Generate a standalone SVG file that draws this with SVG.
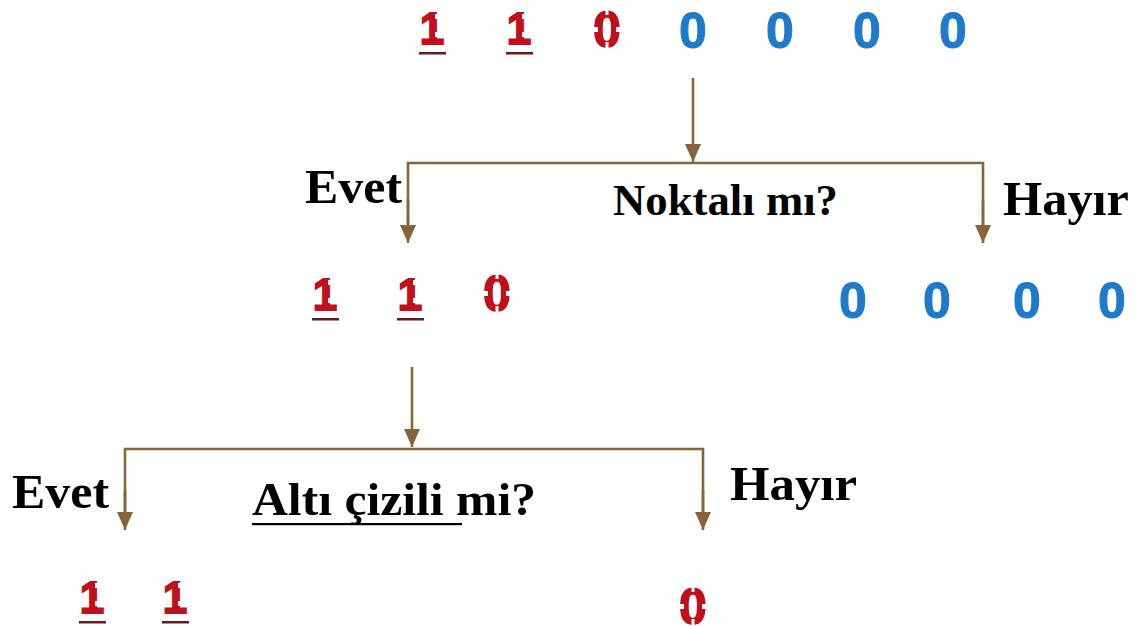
<svg xmlns="http://www.w3.org/2000/svg" xmlns:xlink="http://www.w3.org/1999/xlink" width="1139" height="627" viewBox="0 0 1139 627">
  <style>
    .digit { font-family: "Liberation Sans", Arial, sans-serif; font-weight: bold; text-anchor: middle; }
    .red { fill: #C0101C; stroke: #C0101C; stroke-width: 1.8; }
    .blue { fill: #1E7ACB; stroke: #1E7ACB; stroke-width: 1; font-size: 50px; }
    .label { font-family: "Liberation Serif", "Times New Roman", serif; font-weight: bold; fill: #000; }
    .wire { stroke: #86653A; stroke-width: 2.6; fill: none; }
    .gap { fill: #fff; }
    .uline { fill: #6B1A20; }
  </style>
  <defs>
    <marker id="head" viewBox="0 0 18 16" refX="18" refY="8" markerWidth="18" markerHeight="16" markerUnits="userSpaceOnUse" orient="auto">
      <path d="M0,0 L18,8 L0,16 Z" fill="#86653A"/>
    </marker>
    <!-- dotted, underlined red one: origin = centre of baseline -->
    <g id="one">
      <text class="digit red" x="0" y="0" font-size="44">1</text>
      <rect class="gap" x="3" y="-30" width="4" height="5"/>
      <rect class="gap" x="3" y="-12" width="5" height="5"/>
      <rect class="uline" x="-13" y="8" width="27" height="2.5"/>
    </g>
    <!-- dotted red zero: origin = centre of baseline -->
    <g id="zero">
      <text class="digit red" x="0" y="0" font-size="50">0</text>
      <rect class="gap" x="-16" y="-20" width="7" height="5"/>
      <rect class="gap" x="9" y="-20" width="7" height="5"/>
      <rect class="gap" x="-1.5" y="-38" width="3" height="6"/>
      <rect class="gap" x="-1.5" y="-5" width="3" height="6"/>
    </g>
  </defs>

  <rect width="1139" height="627" fill="#fff"/>

  <!-- connectors -->
  <g id="connectors">
    <line class="wire" x1="693" y1="78" x2="693" y2="162" marker-end="url(#head)"/>
    <polyline class="wire" points="408,230 408,163 983,163 983,230"/>
    <line class="wire" x1="408" y1="200" x2="408" y2="243" marker-end="url(#head)"/>
    <line class="wire" x1="983" y1="200" x2="983" y2="243" marker-end="url(#head)"/>

    <line class="wire" x1="412" y1="367" x2="412" y2="447" marker-end="url(#head)"/>
    <polyline class="wire" points="125,517 125,449 703,449 703,517"/>
    <line class="wire" x1="125" y1="490" x2="125" y2="530" marker-end="url(#head)"/>
    <line class="wire" x1="703" y1="490" x2="703" y2="530" marker-end="url(#head)"/>
  </g>

  <!-- top row: all digits -->
  <g id="row-top">
    <use xlink:href="#one" x="432" y="44"/>
    <use xlink:href="#one" x="519" y="44"/>
    <use xlink:href="#zero" x="607" y="47"/>
    <text class="digit blue" x="693" y="48">0</text>
    <text class="digit blue" x="780" y="48">0</text>
    <text class="digit blue" x="867" y="48">0</text>
    <text class="digit blue" x="953" y="48">0</text>
  </g>

  <!-- question: dotted? -->
  <g id="q-dotted">
    <text class="label" x="613" y="215" font-size="44" textLength="225" lengthAdjust="spacingAndGlyphs">Noktalı mı?</text>
    <text class="label" x="305" y="203" font-size="48" textLength="97" lengthAdjust="spacingAndGlyphs">Evet</text>
    <text class="label" x="1003" y="215" font-size="49" textLength="126" lengthAdjust="spacingAndGlyphs">Hayır</text>
  </g>

  <!-- dotted digits -->
  <g id="row-dotted">
    <use xlink:href="#one" x="325" y="310"/>
    <use xlink:href="#one" x="410" y="310"/>
    <use xlink:href="#zero" x="497" y="311"/>
  </g>

  <!-- plain digits -->
  <g id="row-plain">
    <text class="digit blue" x="853" y="318">0</text>
    <text class="digit blue" x="937" y="318">0</text>
    <text class="digit blue" x="1027" y="318">0</text>
    <text class="digit blue" x="1112" y="318">0</text>
  </g>

  <!-- question: underlined? -->
  <g id="q-underlined">
    <text class="label" x="252" y="515" font-size="47" textLength="284" lengthAdjust="spacingAndGlyphs">Altı çizili mi?</text>
    <rect x="252" y="523" width="210" height="2.2" fill="#000"/>
    <text class="label" x="12" y="508" font-size="48" textLength="97" lengthAdjust="spacingAndGlyphs">Evet</text>
    <text class="label" x="730" y="500" font-size="49" textLength="127" lengthAdjust="spacingAndGlyphs">Hayır</text>
  </g>

  <!-- underlined digits -->
  <g id="row-underlined">
    <use xlink:href="#one" x="92" y="613"/>
    <use xlink:href="#one" x="175" y="613"/>
  </g>

  <!-- not underlined -->
  <g id="row-not-underlined">
    <use xlink:href="#zero" x="693" y="624"/>
  </g>
</svg>
